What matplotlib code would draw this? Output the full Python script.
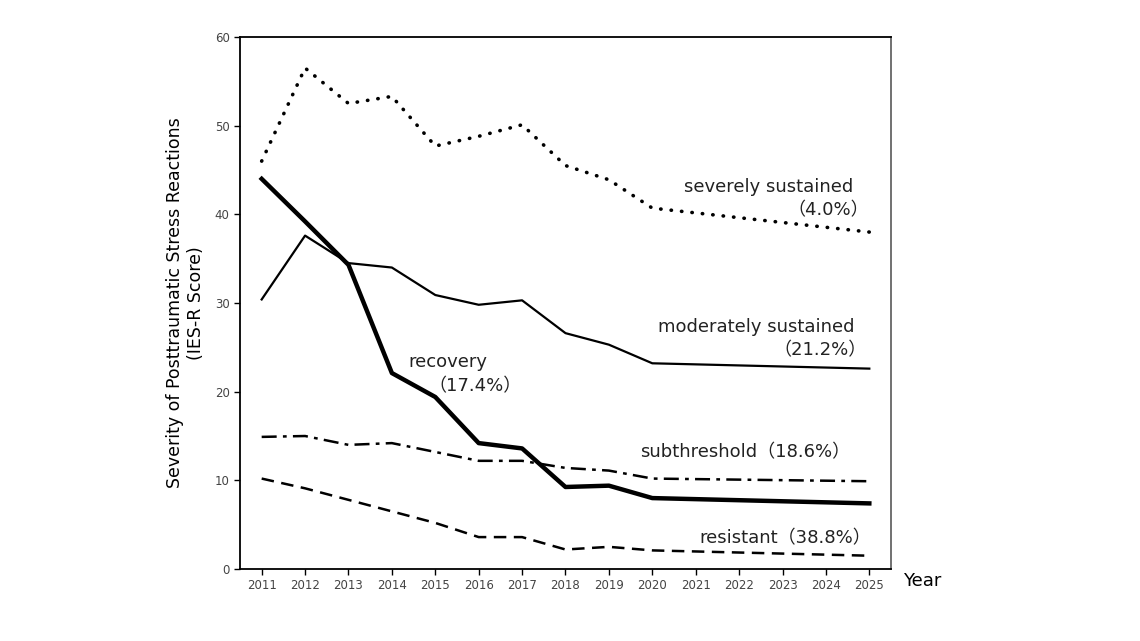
import numpy as np
import matplotlib.pyplot as plt

# data
years = [2011, 2012, 2013, 2014, 2015, 2016, 2017, 2018, 2019, 2020, 2025]
severe = [46.0, 56.5, 52.5, 53.3, 47.7, 48.8, 50.1, 45.5, 43.9, 40.7, 38.0]
moderate = [30.4, 37.6, 34.5, 34.0, 30.9, 29.8, 30.3, 26.6, 25.3, 23.2, 22.6]
recovery = [44.0, 39.2, 34.3, 22.1, 19.4, 14.2, 13.6, 9.25, 9.4, 8.0, 7.4]
subthreshold = [14.9, 15.0, 14.0, 14.2, 13.2, 12.2, 12.2, 11.4, 11.1, 10.2, 9.9]
resistant = [10.2, 9.1, 7.8, 6.5, 5.2, 3.6, 3.6, 2.2, 2.5, 2.1, 1.5]
tick_years = list(range(2011, 2026))

fig = plt.figure(figsize=(11.4, 6.41), dpi=100)
ax = fig.add_axes([0.2105, 0.1123, 0.5711, 0.83])

ax.plot(years, severe, color="black", lw=2.6, linestyle=(0, (0.1, 2.8)), dash_capstyle="round")
ax.plot(years, moderate, color="black", lw=1.6)
ax.plot(years, recovery, color="black", lw=3.2)
ax.plot(years, subthreshold, color="black", lw=1.8, linestyle=(0, (6, 2.5, 1.5, 2.5)))
ax.plot(years, resistant, color="black", lw=1.8, linestyle=(0, (5, 3)))

fam = ["DejaVu Sans", "Noto Sans CJK JP"]
lab = dict(fontsize=13, family=fam, color="#222222")
ax.text(2024.62, 43.1, "severely sustained", ha="right", va="center", **lab)
ax.text(2025.0, 40.5, "（4.0%）", ha="right", va="center", **lab)
ax.text(2024.67, 27.3, "moderately sustained", ha="right", va="center", **lab)
ax.text(2024.95, 24.7, "（21.2%）", ha="right", va="center", **lab)
ax.text(2024.55, 13.2, "subthreshold（18.6%）", ha="right", va="center", **lab)
ax.text(2025.05, 3.5, "resistant（38.8%）", ha="right", va="center", **lab)
ax.text(2014.37, 23.3, "recovery", ha="left", va="center", **lab)
ax.text(2014.85, 20.6, "（17.4%）", ha="left", va="center", **lab)

ax.set_xlim(2010.5, 2025.5)
ax.set_ylim(0, 60)
ax.set_xticks(tick_years)
ax.set_yticks(np.arange(0, 61, 10))
ax.tick_params(labelsize=8.5, labelcolor="#444444", length=4, width=1)
for s in ax.spines.values():
    s.set_linewidth(1.3)
ax.spines["right"].set_color("#666666")

ax.set_ylabel("Severity of Posttraumatic Stress Reactions\n(IES-R Score)", fontsize=12.5, labelpad=7)
fig.text(0.792, 0.094, "Year", fontsize=13, ha="left", va="center")

fig.savefig("out.png", dpi=100)
